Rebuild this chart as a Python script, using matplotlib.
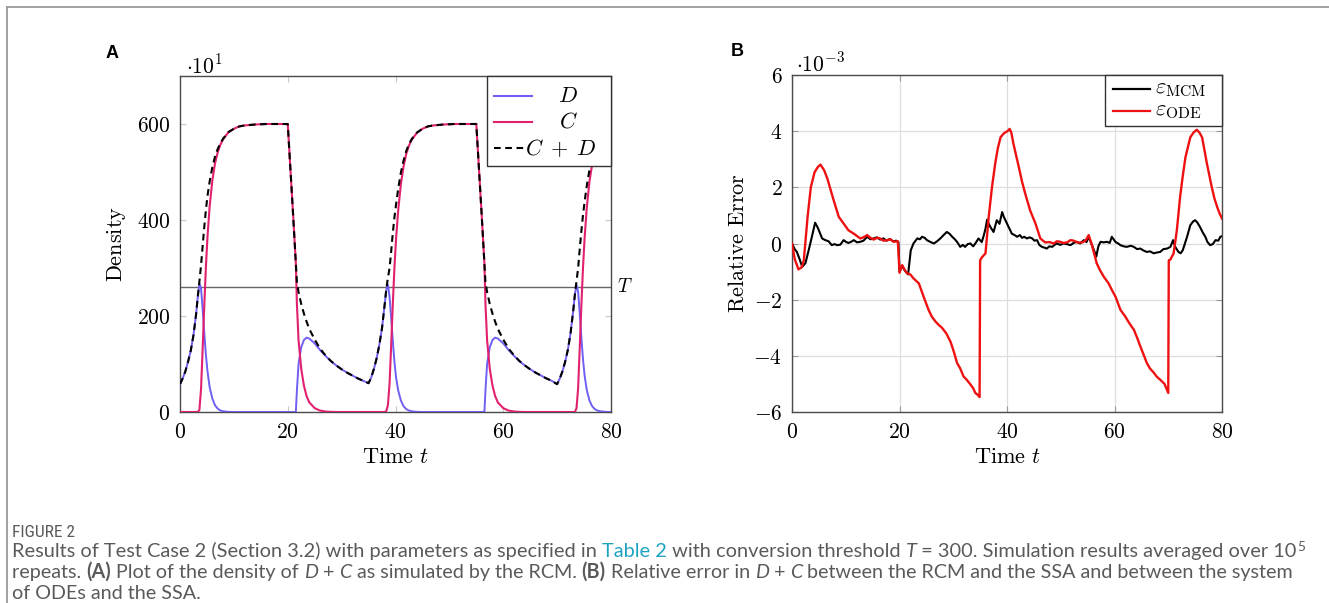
import matplotlib
matplotlib.use("Agg")
import matplotlib.pyplot as plt
from matplotlib.lines import Line2D
from matplotlib.patches import Rectangle
from matplotlib.font_manager import FontProperties

plt.rcParams['mathtext.fontset'] = 'cm'

# ---------------- data: panel A (density, units of 10^1) ----------------
t_A = [0, 0.5, 1, 1.5, 2, 2.5, 3, 3.3, 3.6, 3.9, 4.2, 4.5, 4.8, 5.1, 5.5, 6, 6.5, 7, 7.5, 8, 9, 10, 11, 12, 14, 16, 18, 20,
       20.5, 21, 21.5, 21.7, 22, 22.5, 23, 23.5, 24, 25, 26, 27, 28, 29, 30, 31, 32, 33, 34, 35,
       35.5, 36, 36.5, 37, 37.5, 38, 38.3, 38.6, 38.9, 39.2, 39.5, 39.8, 40.1, 40.5, 41, 41.5, 42, 42.5, 43, 44, 45, 46, 47, 49, 51, 53, 55,
       55.5, 56, 56.5, 56.7, 57, 57.5, 58, 58.5, 59, 60, 61, 62, 63, 64, 65, 66, 67, 68, 69, 70,
       70.5, 71, 71.5, 72, 72.5, 73, 73.3, 73.6, 73.9, 74.2, 74.5, 74.8, 75.1, 75.5, 76, 76.5, 77, 77.5, 78, 79, 80]
D_A = [58, 70, 85, 105, 128, 160, 205, 240, 268, 258, 215, 165, 120, 85, 52, 28, 14, 7, 3, 1.5, 0.3, 0, 0, 0, 0, 0, 0, 0,
       0, 0, 0, 45, 100, 135, 150, 155, 153, 143, 129, 117, 106, 97, 89, 82, 76, 70, 65, 60,
       72, 90, 112, 140, 175, 225, 255, 265, 240, 195, 148, 105, 72, 45, 24, 12, 6, 3, 1.5, 0.3, 0, 0, 0, 0, 0, 0, 0,
       0, 0, 0, 45, 100, 135, 150, 155, 153, 143, 129, 117, 106, 97, 89, 82, 76, 70, 65, 58,
       70, 85, 105, 130, 165, 212, 245, 265, 250, 205, 155, 110, 76, 46, 24, 12, 6, 3, 1.5, 0.3, 0]
C_A = [0, 0, 0, 0, 0, 0, 0, 0, 4, 47, 130, 220, 300, 365, 428, 482, 518, 541, 557, 568, 583, 590, 595, 597, 599, 600, 600, 600,
       505, 410, 310, 225, 150, 90, 55, 33, 20, 8, 3, 1, 0.3, 0, 0, 0, 0, 0, 0, 0,
       0, 0, 0, 0, 0, 0, 2, 15, 60, 140, 225, 300, 360, 420, 475, 512, 538, 555, 567, 582, 590, 595, 597, 599, 600, 600, 600,
       505, 410, 310, 225, 150, 90, 55, 33, 20, 8, 3, 1, 0.3, 0, 0, 0, 0, 0, 0, 0,
       0, 0, 0, 0, 0, 0, 0, 8, 50, 135, 222, 300, 362, 425, 480, 516, 540, 556, 567, 582, 590]
T_level = 261
xticks_A = [0, 20, 40, 60, 80]
yticks_A = [0, 200, 400, 600]

# ---------------- data: panel B (relative error, units of 10^-3) ----------------
t_ode = [0, 0.5, 1.2, 1.8, 2.2, 2.9, 3.5, 4.2, 4.8, 5.3,
         6.0, 6.6, 7.2, 7.75, 8.7, 9.6, 10.5, 11.5, 12.7, 13.3,
         14.0, 14.6, 15.2, 15.8, 16.4, 17.0, 17.7, 18.3, 18.9, 19.7,
         20.0, 20.5, 21.0, 21.4, 22.0, 22.6, 23.6, 24.5, 25.4, 26.0,
         26.7, 27.3, 27.9, 28.7, 29.5, 30.1, 30.7, 31.3, 31.9, 32.5,
         33.2, 33.7, 34.1, 34.5, 34.9, 35.0, 35.3, 36.0, 36.6, 37.2,
         37.8, 38.3, 38.8, 39.3, 39.7, 40.1, 40.5, 40.8, 41.2, 42.2,
         42.8, 43.4, 44.3, 45.3, 46.2, 47.1, 47.9, 48.7, 49.3, 49.9,
         50.5, 51.2, 51.8, 52.4, 53.2, 54.0, 54.6, 55.2, 55.8, 56.7,
         57.3, 58.0, 58.9, 59.5, 60.2, 61.1, 62.0, 62.8, 63.6, 64.2,
         64.8, 65.4, 66.0, 66.6, 67.3, 67.9, 68.5, 69.3, 70.0, 70.1,
         70.4, 71.0, 71.6, 72.2, 72.7, 73.2, 74.1, 74.7, 75.3, 75.8,
         76.3, 77.2, 78.1, 78.6, 79.1, 79.6, 80.0]
e_ode = [0, -0.55, -0.92, -0.85, -0.6, 0.95, 2.0, 2.54, 2.72, 2.81,
         2.6, 2.3, 1.9, 1.54, 0.95, 0.71, 0.47, 0.35, 0.18, 0.22,
         0.3, 0.2, 0.14, 0.2, 0.18, 0.1, 0.12, 0.15, 0.06, 0.08,
         -1.04, -0.77, -0.95, -1.06, -1.1, -1.24, -1.42, -1.9, -2.36, -2.6,
         -2.78, -2.9, -3.0, -3.2, -3.5, -3.85, -4.25, -4.45, -4.73, -4.85,
         -5.02, -5.15, -5.32, -5.38, -5.47, -0.6, -0.5, -0.35, 0.95, 2.0,
         2.84, 3.4, 3.78, 3.9, 3.96, 4.0, 4.08, 3.95, 3.55, 2.72,
         2.2, 1.77, 1.18, 0.71, 0.18, 0.04, 0.05, 0.0, 0.08, 0.06,
         0.02, 0.04, 0.12, 0.1, 0.03, 0.04, 0.1, 0.3, -0.06, -0.71,
         -0.95, -1.18, -1.42, -1.65, -1.9, -2.36, -2.6, -2.85, -3.07, -3.35,
         -3.66, -3.95, -4.25, -4.45, -4.6, -4.75, -4.85, -5.0, -5.32, -0.6,
         -0.57, -0.35, 0.47, 1.65, 2.4, 3.07, 3.78, 3.95, 4.05, 3.95,
         3.78, 2.84, 2.0, 1.6, 1.3, 1.05, 0.89]

t_mcm = [0, 0.5, 0.9, 1.4, 1.9, 2.5, 3.1, 3.7, 4.3, 4.7,
         5.0, 5.6, 6.2, 6.8, 7.4, 7.9, 8.4, 9.0, 9.6, 10.1,
         10.5, 11.0, 11.5, 12.1, 12.7, 13.3, 14.0, 14.6, 15.2, 15.8,
         16.4, 17.0, 17.6, 18.2, 18.8, 19.4, 19.8, 20.0, 20.5, 21.0,
         21.6, 22.1, 22.6, 23.3, 23.8, 24.2, 24.7, 25.1, 25.7, 26.4,
         27.0, 27.6, 28.2, 28.8, 29.3, 29.8, 30.3, 30.7, 31.3, 31.8,
         32.2, 32.7, 33.2, 33.7, 34.1, 34.7, 35.3, 35.7, 36.0, 36.3,
         36.6, 36.9, 37.5, 38.1, 38.6, 39.1, 39.4, 39.7, 40.3, 40.9,
         41.4, 41.9, 42.4, 42.8, 43.2, 43.7, 44.2, 44.7, 45.1, 45.6,
         46.0, 46.5, 47.0, 47.4, 47.9, 48.4, 48.9, 49.3, 49.9, 50.5,
         51.1, 51.8, 52.4, 53.0, 53.6, 54.3, 54.8, 55.2, 55.8, 56.3,
         56.6, 57.0, 57.4, 58.0, 58.6, 59.1, 59.5, 60.2, 60.7, 61.1,
         61.7, 62.3, 63.0, 63.6, 64.2, 64.8, 65.4, 66.0, 66.6, 67.3,
         67.9, 68.5, 69.1, 69.8, 70.4, 70.9, 71.3, 71.9, 72.3, 72.7,
         73.1, 73.5, 74.1, 74.6, 75.0, 75.4, 75.9, 76.4, 76.9, 77.3,
         77.8, 78.3, 78.8, 79.3, 79.7, 80.0]
e_mcm = [0, -0.2, -0.3, -0.55, -0.83, -0.7, -0.24, 0.24, 0.74, 0.6,
         0.47, 0.18, 0.12, 0.08, -0.06, -0.02, -0.06, -0.04, 0.12, 0.05,
         0.02, 0.06, 0.12, 0.04, 0.06, 0.1, 0.24, 0.15, 0.18, 0.22,
         0.14, 0.18, 0.1, 0.16, 0.08, 0.1, 0.05, -1.0, -0.8, -0.97,
         -1.1, -0.24, 0.0, 0.18, 0.15, 0.24, 0.2, 0.12, 0.06, 0.0,
         0.08, 0.18, 0.3, 0.41, 0.35, 0.24, 0.15, 0.06, -0.12, -0.05,
         -0.12, -0.02, 0.0, -0.1, 0.0, 0.18, 0.05, 0.3, 0.53, 0.85,
         0.7, 0.59, 0.41, 0.83, 0.7, 1.12, 0.95, 0.83, 0.59, 0.35,
         0.3, 0.24, 0.3, 0.2, 0.24, 0.18, 0.22, 0.18, 0.1, 0.12,
         -0.05, -0.12, -0.15, -0.18, -0.1, -0.12, -0.04, 0.0, -0.05, 0.0,
         -0.02, -0.06, 0.02, 0.06, 0.0, 0.12, 0.05, 0.24, -0.05, -0.3,
         -0.47, -0.1, 0.06, 0.04, 0.06, 0.02, 0.24, 0.05, 0.0, -0.06,
         -0.1, -0.12, -0.08, -0.12, -0.2, -0.18, -0.25, -0.3, -0.28, -0.35,
         -0.32, -0.3, -0.2, -0.18, -0.12, 0.12, -0.12, -0.3, -0.35, -0.24,
         0.0, 0.24, 0.65, 0.78, 0.83, 0.75, 0.59, 0.4, 0.24, 0.05,
         -0.06, -0.02, 0.12, 0.1, 0.24, 0.26]
xticks_B = [0, 20, 40, 60, 80]
yticks_B = [-6, -4, -2, 0, 2, 4, 6]

# ---------------- figure ----------------
W, H = 1329, 603
fig = plt.figure(figsize=(W / 100, H / 100), dpi=100)

def px_axes(x0, x1, ytop, ybot):
    return fig.add_axes([x0 / W, 1 - ybot / H, (x1 - x0) / W, (ybot - ytop) / H])

axA = px_axes(180, 611, 76, 412)
axB = px_axes(792, 1222, 75, 412)

BLUE = '#6f5ff2'
MAG = '#e1206f'
RED = '#ee1111'
SPINE = '#4a4a4a'
TICKFS = 15.5

def style(ax, tickcol):
    for s in ax.spines.values():
        s.set_color(SPINE)
        s.set_linewidth(1.0)
    ax.tick_params(direction='in', length=4, width=0.8, color=tickcol,
                   top=True, right=True, labelsize=TICKFS, pad=7)
    ax.xaxis.set_major_formatter(plt.FuncFormatter(lambda v, p: r'$%d$' % round(v)))
    ax.yaxis.set_major_formatter(plt.FuncFormatter(lambda v, p: r'$%d$' % round(v)))

# Panel A
SA = [d + c for d, c in zip(D_A, C_A)]
axA.plot(t_A, D_A, color=BLUE, lw=1.4, zorder=3)
axA.plot(t_A, C_A, color=MAG, lw=1.5, zorder=4)
axA.plot(t_A, SA, color='black', lw=1.5, ls=(0, (3.2, 2.2)), zorder=5)
axA.axhline(T_level, color='#666666', lw=1.0, zorder=2)
axA.set_xlim(0, 80)
axA.set_ylim(0, 700)
axA.set_xticks(xticks_A)
axA.set_yticks(yticks_A)
style(axA, '#c8c8c8')
axA.set_xlabel(r'$\mathrm{Time}\ t$', fontsize=16, labelpad=4)
axA.set_ylabel(r'$\mathrm{Density}$', fontsize=16, labelpad=6)
axA.text(1.015, T_level / 700, r'$T$', transform=axA.transAxes, fontsize=14,
         va='center', ha='left')

# Panel B
axB.grid(True, color='#dddddd', lw=0.9)
axB.set_axisbelow(True)
axB.plot(t_mcm, e_mcm, color='black', lw=1.5, zorder=3)
axB.plot(t_ode, e_ode, color=RED, lw=1.7, zorder=4)
axB.set_xlim(0, 80)
axB.set_ylim(-6, 6)
axB.set_xticks(xticks_B)
axB.set_yticks(yticks_B)
style(axB, '#999999')
axB.set_xlabel(r'$\mathrm{Time}\ t$', fontsize=16, labelpad=4)
axB.set_ylabel(r'$\mathrm{Relative\ Error}$', fontsize=16, labelpad=4)

# manual legends (pixel-placed boxes)
def to_ax(box, px, py):
    x0, x1, yt, yb = box
    return (px - x0) / (x1 - x0), (yb - py) / (yb - yt)

boxA = (180, 611, 76, 412)
(lx0, ly0) = to_ax(boxA, 487, 166)
(lx1, ly1) = to_ax(boxA, 611, 76)
axA.add_patch(Rectangle((lx0, ly0), lx1 - lx0, ly1 - ly0, transform=axA.transAxes,
                        facecolor='white', edgecolor='#333333', lw=1.0, zorder=10, clip_on=False))
for (py, col, ls, xe, lab, xc) in [(96, BLUE, '-', 532, r'$D$', 568), (122, MAG, '-', 532, r'$C$', 568),
                                   (148, 'black', (0, (3.2, 2.2)), 524, r'$C\;+\;D$', 561)]:
    a0 = to_ax(boxA, 494, py)
    a1 = to_ax(boxA, xe, py)
    axA.add_line(Line2D([a0[0], a1[0]], [a0[1], a1[1]], transform=axA.transAxes, color=col,
                        lw=1.5, ls=ls, zorder=11, clip_on=False))
    tc = to_ax(boxA, xc, py)
    axA.text(tc[0], tc[1], lab, transform=axA.transAxes, fontsize=16, ha='center',
             va='center', zorder=12)

boxB = (792, 1222, 75, 412)
(bx0, by0) = to_ax(boxB, 1105, 126)
(bx1, by1) = to_ax(boxB, 1222, 75)
axB.add_patch(Rectangle((bx0, by0), bx1 - bx0, by1 - by0, transform=axB.transAxes,
                        facecolor='white', edgecolor='#333333', lw=1.0, zorder=10, clip_on=False))
for (py, col, lab) in [(89, 'black', r'$\varepsilon_{\mathrm{MCM}}$'),
                       (111, RED, r'$\varepsilon_{\mathrm{ODE}}$')]:
    a0 = to_ax(boxB, 1113, py)
    a1 = to_ax(boxB, 1150, py)
    axB.add_line(Line2D([a0[0], a1[0]], [a0[1], a1[1]], transform=axB.transAxes, color=col,
                        lw=1.6, zorder=11, clip_on=False))
    tc = to_ax(boxB, 1155, py)
    axB.text(tc[0], tc[1], lab, transform=axB.transAxes, fontsize=16, ha='left',
             va='center', zorder=12)

# scale multipliers and panel letters
fig.text(186 / W, 1 - 74 / H, r'$\cdot 10^{1}$', fontsize=15.5, ha='left', va='baseline')
fig.text(796 / W, 1 - 72 / H, r'$\cdot 10^{-3}$', fontsize=15.5, ha='left', va='baseline')
fig.text(112 / W, 1 - 53 / H, 'A', fontsize=13, fontweight='bold', family=['Liberation Sans', 'DejaVu Sans'],
         ha='center', va='center')
fig.text(737 / W, 1 - 52 / H, 'B', fontsize=13, fontweight='bold', family=['Liberation Sans', 'DejaVu Sans'],
         ha='center', va='center')

# frame lines of the figure page
fig.add_artist(Line2D([7 / W, 7 / W], [0, 1 - 7 / H], color='#9a9a9a', lw=1.3))
fig.add_artist(Line2D([7 / W, 1], [1 - 7 / H, 1 - 7 / H], color='#9a9a9a', lw=1.3))

# ---------------- caption ----------------
CAPFAM = ['Lato', 'Liberation Sans', 'DejaVu Sans']
CAPCOL = '#5a5a5a'
TEAL = '#1ea4c0'
renderer = fig.canvas.get_renderer()

def fp(size, style='normal', weight='normal', family=None):
    return FontProperties(family=family or CAPFAM, size=size, style=style, weight=weight)

def width(s, prop):
    w1, _, _ = renderer.get_text_width_height_descent('x' + s + 'x', prop, ismath=False)
    w2, _, _ = renderer.get_text_width_height_descent('xx', prop, ismath=False)
    return w1 - w2

def run_props(kind, size):
    if kind == 'it':
        return fp(size, style='italic')
    if kind == 'b':
        return fp(size, weight='bold')
    if kind == 'sup':
        return fp(size * 0.68)
    return fp(size)

line1 = [("Results of Test Case 2 (Section 3.2) with parameters as specified in ", 'n'),
         ("Table 2", 'teal'), (" with conversion threshold ", 'n'), ("T", 'it'),
         (" = 300. Simulation results averaged over 10", 'n'), ("5", 'sup')]
line2 = [("repeats. ", 'n'), ("(A)", 'b'), (" Plot of the density of ", 'n'), ("D", 'it'),
         (" + ", 'n'), ("C", 'it'), (" as simulated by the RCM. ", 'n'), ("(B)", 'b'),
         (" Relative error in ", 'n'), ("D", 'it'), (" + ", 'n'), ("C", 'it'),
         (" between the RCM and the SSA and between the system", 'n')]
line3 = [("of ODEs and the SSA.", 'n')]

def natural_width(runs, size):
    return sum(width(s, run_props(k, size)) for s, k in runs)

size1 = 10.0 * (1305 - 12) / natural_width(line1, 10.0)
size2 = 10.0 * (1297 - 12) / natural_width(line2, 10.0)

def draw_line(runs, x, ybase, size):
    for s, k in runs:
        prop = run_props(k, size)
        col = TEAL if k == 'teal' else CAPCOL
        dy = size * 0.45 if k == 'sup' else 0
        fig.text(x / W, 1 - (ybase - dy) / H, s, fontproperties=prop, color=col,
                 ha='left', va='baseline')
        x += width(s, prop)

FIGFAM = ['Roboto Condensed', 'Lato', 'Liberation Sans']
fig_size = 10.0 * (75 - 12) / width('FIGURE 2', fp(10.0, family=FIGFAM))
fig.text(12 / W, 1 - 537 / H, 'FIGURE 2', fontproperties=fp(fig_size, family=FIGFAM), color=CAPCOL,
         ha='left', va='baseline')
draw_line(line1, 12, 557, size1)
draw_line(line2, 12, 578, size2)
draw_line(line3, 12, 599, size2)

fig.savefig('out.png', dpi=100)
